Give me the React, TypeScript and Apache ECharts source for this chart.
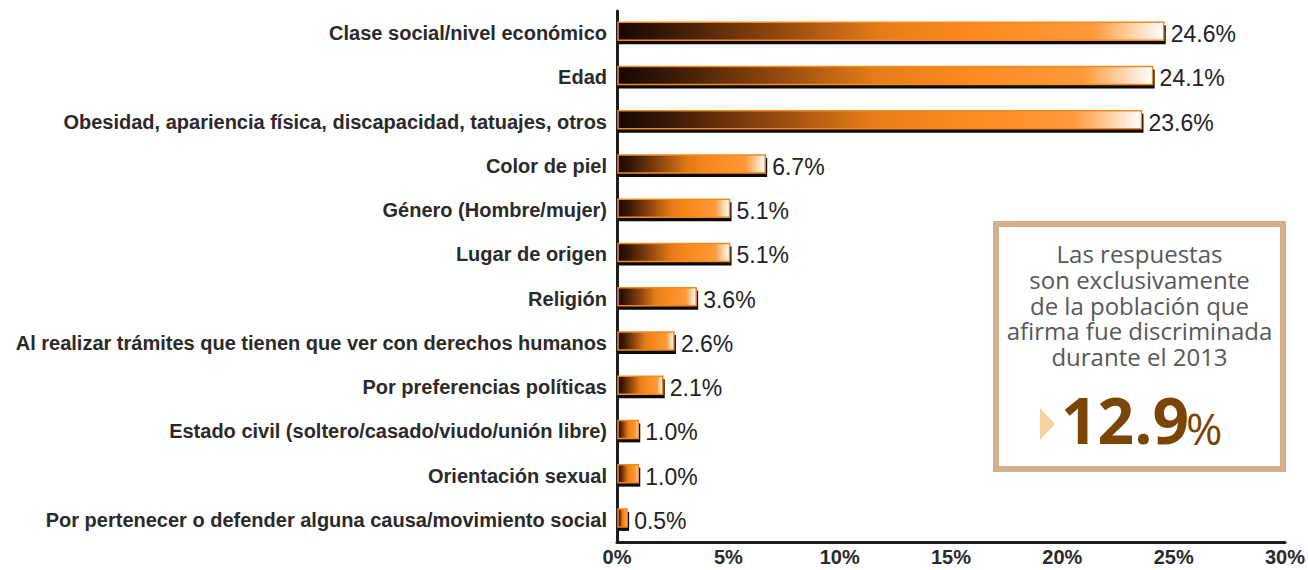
import React, { useEffect, useRef } from "react";
import * as echarts from "echarts";

const categories = [
  "Clase social/nivel económico",
  "Edad",
  "Obesidad, apariencia física, discapacidad, tatuajes, otros",
  "Color de piel",
  "Género (Hombre/mujer)",
  "Lugar de origen",
  "Religión",
  "Al realizar trámites que tienen que ver con derechos humanos",
  "Por preferencias políticas",
  "Estado civil (soltero/casado/viudo/unión libre)",
  "Orientación sexual",
  "Por pertenecer o defender alguna causa/movimiento social",
];
const values = [24.6, 24.1, 23.6, 6.7, 5.1, 5.1, 3.6, 2.6, 2.1, 1.0, 1.0, 0.5];
const axisMax = 30;
const axisInterval = 5;
const noteLines = [
  "Las respuestas",
  "son exclusivamente",
  "de la población que",
  "afirma fue discriminada",
  "durante el 2013",
];
const highlightValue = "12.9";

const LABEL_FONT = "'Liberation Sans', Arial, Helvetica, sans-serif";
const NOTE_FONT = "'Open Sans', 'Noto Sans', sans-serif";

export default function App() {
  const ref = useRef<HTMLDivElement>(null);

  useEffect(() => {
    if (!ref.current) return;
    const chart = echarts.init(ref.current, undefined, { renderer: "svg" });

    const barGradient = () =>
      new echarts.graphic.LinearGradient(0, 0, 1, 0, [
        { offset: 0, color: "#140700" },
        { offset: 0.1, color: "#3a1a05" },
        { offset: 0.3, color: "#94490f" },
        { offset: 0.48, color: "#e57c18" },
        { offset: 0.65, color: "#fb8a1e" },
        { offset: 0.87, color: "#ff9a3a" },
        { offset: 1, color: "#ffffff" },
      ]);

    const option: any = {
      animation: false,
      backgroundColor: "#ffffff",
      grid: { left: 617, right: 18, top: 11, bottom: 28, containLabel: false },
      xAxis: {
        type: "value",
        min: 0,
        max: axisMax,
        interval: axisInterval,
        axisLine: { show: true, lineStyle: { color: "#1e1e1e", width: 3 } },
        axisTick: { show: false },
        splitLine: { show: false },
        axisLabel: {
          formatter: "{value}%",
          fontFamily: LABEL_FONT,
          fontWeight: "bold",
          fontSize: 20,
          color: "#2a2a2a",
          margin: 5,
        },
      },
      yAxis: {
        type: "category",
        inverse: true,
        data: categories,
        axisLine: { show: true, lineStyle: { color: "#1e1e1e", width: 3 } },
        axisTick: { show: false },
        splitLine: { show: false },
        axisLabel: {
          fontFamily: LABEL_FONT,
          fontWeight: "bold",
          fontSize: 20,
          color: "#2a2a2a",
          margin: 10,
        },
      },
      series: [
        {
          type: "custom",
          encode: { x: 0, y: 1 },
          data: values.map((v, i) => [v, i]),
          renderItem: (params: any, api: any) => {
            const v = api.value(0);
            const idx = api.value(1);
            const start = api.coord([0, idx]);
            const end = api.coord([v, idx]);
            const h = 20;
            const x0 = start[0] + 1;
            const len = Math.max(end[0] - x0, 2);
            const top = start[1] - 11;
            return {
              type: "group",
              children: [
                {
                  type: "rect",
                  shape: { x: x0, y: top + 3, width: len + 1, height: h - 1 },
                  style: { fill: "#0d0905" },
                },
                {
                  type: "rect",
                  shape: { x: x0, y: top, width: len - 1, height: h - 2 },
                  style: { fill: barGradient(), stroke: "#f48a1e", lineWidth: 1.5 },
                },
                {
                  type: "text",
                  style: {
                    text: v.toFixed(1) + "%",
                    x: end[0] + 6,
                    y: start[1] + 1,
                    verticalAlign: "middle",
                    align: "left",
                    fontFamily: LABEL_FONT,
                    fontSize: 23,
                    fill: "#222222",
                  },
                },
              ],
            };
          },
        },
      ],
      graphic: [
        {
          type: "rect",
          shape: { x: 996, y: 224, width: 287, height: 245 },
          style: { fill: "#ffffff", stroke: "#d4b08c", lineWidth: 6 },
          z: 10,
        },
        {
          type: "text",
          z: 11,
          style: {
            text: noteLines.join("\n"),
            x: 1139.5,
            y: 241,
            align: "center",
            verticalAlign: "top",
            lineHeight: 25.7,
            fontFamily: NOTE_FONT,
            fontSize: 24,
            fill: "#58585a",
          },
        },
        {
          type: "polygon",
          z: 11,
          shape: { points: [[1040, 408], [1055, 424], [1040, 440]] },
          style: { fill: "#fdd0a2" },
        },
        {
          type: "text",
          z: 11,
          style: {
            text: highlightValue,
            x: 1061,
            y: 419,
            align: "left",
            verticalAlign: "middle",
            fontFamily: NOTE_FONT,
            fontWeight: "bold",
            fontSize: 64,
            fill: "#7a4506",
          },
        },
        {
          type: "text",
          z: 11,
          style: {
            text: "%",
            x: 1186,
            y: 428,
            align: "left",
            verticalAlign: "middle",
            fontFamily: NOTE_FONT,
            fontSize: 44,
            fill: "#7a4506",
          },
        },
      ],
    };

    chart.setOption(option);
    return () => chart.dispose();
  }, []);

  return (
    <div
      ref={ref}
      style={{ position: "absolute", left: 0, top: 0, width: 1308, height: 570 }}
    />
  );
}
